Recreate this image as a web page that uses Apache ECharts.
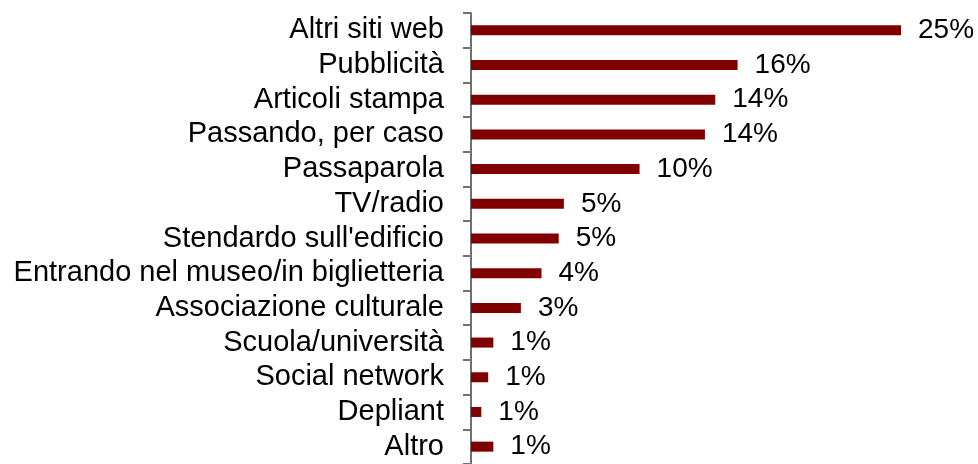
<!DOCTYPE html>
<html>
<head>
<meta charset="utf-8">
<script src="https://cdn.jsdelivr.net/npm/echarts@6/dist/echarts.min.js"></script>
<style>
  html, body { margin: 0; padding: 0; background: #fff; }
  #chart { width: 978px; height: 464px; }
</style>
</head>
<body>
<div id="chart"></div>
<script>
// categories, top to bottom
var categories = [
  'Altri siti web', 'Pubblicità', 'Articoli stampa', 'Passando, per caso',
  'Passaparola', 'TV/radio', "Stendardo sull'edificio",
  'Entrando nel museo/in biglietteria', 'Associazione culturale',
  'Scuola/università', 'Social network', 'Depliant', 'Altro'
];
// percent values
var values = [25.0, 15.5, 14.2, 13.6, 9.8, 5.4, 5.1, 4.1, 2.9, 1.3, 1.0, 0.6, 1.3];

var font = '"Liberation Sans", Arial, sans-serif';
var myChart = echarts.init(document.getElementById('chart'));
myChart.setOption({
  animation: false,
  grid: {
    left: 471,
    top: 13,
    width: 430,
    height: 455
  },
  xAxis: {
    type: 'value',
    min: 0,
    max: 25,
    show: false
  },
  yAxis: {
    type: 'category',
    inverse: true,
    data: categories,
    axisLine: { show: true, lineStyle: { color: '#707070', width: 2 } },
    axisTick: {
      show: true,
      interval: 0,
      length: 8,
      lineStyle: { color: '#707070', width: 2 }
    },
    axisLabel: {
      interval: 0,
      color: '#000',
      fontFamily: font,
      fontSize: 29,
      margin: 27
    }
  },
  series: [{
    type: 'bar',
    data: values,
    barWidth: 10,
    itemStyle: { color: '#800000' },
    label: {
      show: true,
      position: 'right',
      distance: 17,
      color: '#000',
      fontFamily: font,
      fontSize: 28,
      formatter: function (p) { return Math.round(p.value) + '%'; }
    }
  }]
});
</script>
</body>
</html>
